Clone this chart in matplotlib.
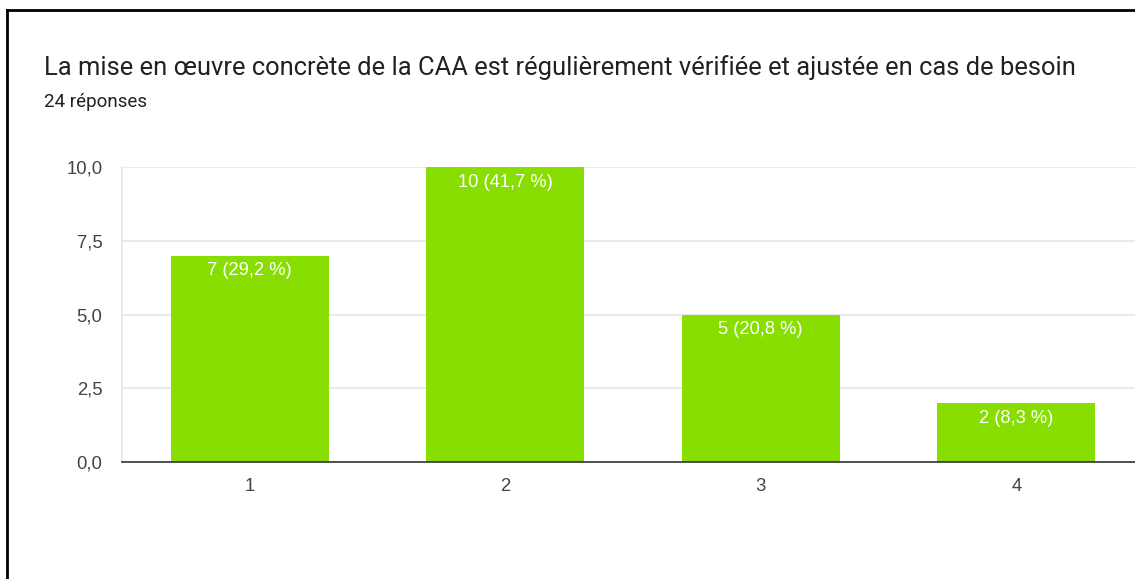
import matplotlib.pyplot as plt
from matplotlib.lines import Line2D

plt.rcParams['font.family'] = ['Roboto', 'DejaVu Sans']

# Data
categories = ['1', '2', '3', '4']
counts = [7, 10, 5, 2]
labels = ['7 (29,2 %)', '10 (41,7 %)', '5 (20,8 %)', '2 (8,3 %)']
yticks = [0, 2.5, 5, 7.5, 10]
ytick_labels = ['0,0', '2,5', '5,0', '7,5', '10,0']
title = "La mise en œuvre concrète de la CAA est régulièrement vérifiée et ajustée en cas de besoin"
subtitle = "24 réponses"

green = '#88de00'
chart_font = ['Liberation Sans', 'DejaVu Sans']

fig = plt.figure(figsize=(11.35, 5.79), dpi=100)
ax = fig.add_axes([122 / 1135, 117 / 579, 1022 / 1135, 295 / 579])

x = range(1, len(categories) + 1)
bars = ax.bar(x, counts, width=0.62, color=green, zorder=2)
for b, lab in zip(bars, labels):
    ax.text(b.get_x() + b.get_width() / 2, b.get_height() - 0.52, lab,
            ha='center', va='center', color='white', fontsize=13.2,
            family=chart_font, zorder=3)

ax.set_xlim(0.5, 4.5)
ax.set_ylim(0, 10)
ax.set_xticks(list(x))
ax.set_xticklabels(categories, family=chart_font)
ax.set_yticks(yticks)
ax.set_yticklabels(ytick_labels, family=chart_font)
ax.tick_params(length=0, labelsize=13.3, labelcolor='#444444')
ax.tick_params(axis='y', pad=14)
ax.tick_params(axis='x', pad=11.5)
ax.grid(axis='y', color='#e6e6e6', linewidth=1.2, zorder=0)
for s in ['top', 'right']:
    ax.spines[s].set_visible(False)
ax.spines['left'].set_color('#e6e6e6')
ax.spines['left'].set_linewidth(1.2)
ax.spines['bottom'].set_color('#333333')
ax.spines['bottom'].set_linewidth(1.2)
ax.spines['bottom'].set_zorder(4)

fig.text(44 / 1135, 1 - 68 / 579, title, fontsize=18.4, color='#202124', va='center', ha='left')
fig.text(44 / 1135, 1 - 102 / 579, subtitle, fontsize=13.5, color='#202124', va='center', ha='left')

# Screenshot frame (top and left edges)
fig.add_artist(Line2D([7 / 1135, 1], [1 - 10 / 579, 1 - 10 / 579], transform=fig.transFigure, color='black', lw=2))
fig.add_artist(Line2D([7 / 1135, 7 / 1135], [0, 1 - 10 / 579], transform=fig.transFigure, color='black', lw=2))

fig.savefig('out.png', dpi=100)
